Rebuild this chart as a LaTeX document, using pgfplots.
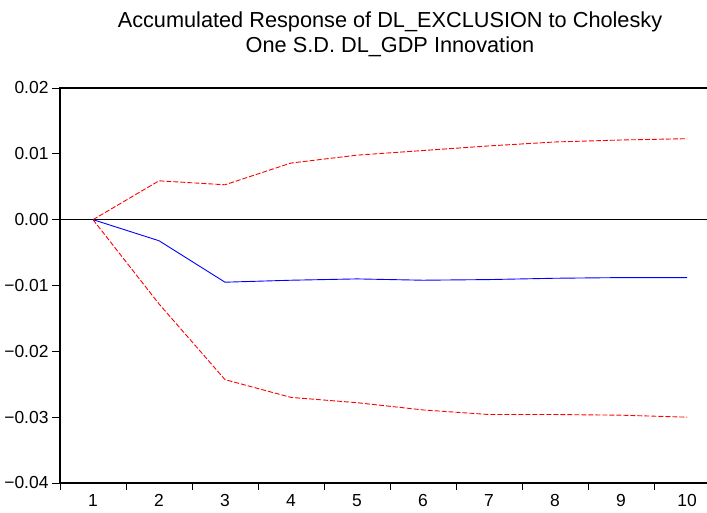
\documentclass[border=0pt]{standalone}
\usepackage{pgfplots}
\pgfplotsset{compat=1.18}
\usepackage{fontspec}
\setmainfont{Liberation Sans}
\begin{document}
\begin{tikzpicture}[x=1bp,y=1bp]
\path[use as bounding box] (0,0) rectangle (707,513);
\begin{axis}[
  at={(60bp,30bp)}, anchor=south west,
  scale only axis, width=660bp, height=395bp,
  xmin=0.5, xmax=10.5, ymin=-0.04, ymax=0.02,
  scaled y ticks=false,
  axis line style={black, line width=1.2bp},
  xtick={1,2,3,4,5,6,7,8,9,10},
  minor xtick={0.5,1.5,2.5,3.5,4.5,5.5,6.5,7.5,8.5,9.5,10.5},
  major x tick style={draw=none},
  minor x tick style={black, line width=0.8bp},
  y tick style={black, line width=0.8bp},
  tick align=outside, xtick pos=bottom, ytick pos=left,
  major tick length=8bp, minor tick length=7bp,
  ytick={-0.04,-0.03,-0.02,-0.01,0,0.01,0.02},
  yticklabels={−0.04,−0.03,−0.02,−0.01,0.00,0.01,0.02},
  tick label style={font=\fontsize{17.5}{20}\selectfont},
  /pgf/number format/assume math mode=true,
  clip=false,
]
\addplot[black, line width=0.9bp, forget plot] coordinates {(0.5,0) (10.5,0)};
\addplot[red, line width=0.9bp, dash pattern=on 5bp off 2bp] coordinates {
(1,0) (2,0.0059) (3,0.0053) (4,0.0086) (5,0.0098) (6,0.0105) (7,0.0112) (8,0.0118) (9,0.0121) (10,0.0123)};
\addplot[red, line width=0.9bp, dash pattern=on 5bp off 2bp] coordinates {
(1,0) (2,-0.0128) (3,-0.0243) (4,-0.0270) (5,-0.0278) (6,-0.0289) (7,-0.0296) (8,-0.0296) (9,-0.0297) (10,-0.0300)};
\addplot[blue, line width=0.9bp] coordinates {
(1,0) (2,-0.0032) (3,-0.0095) (4,-0.0092) (5,-0.0090) (6,-0.0092) (7,-0.0091) (8,-0.0089) (9,-0.0088) (10,-0.0088)};
\end{axis}
\node[anchor=base, font=\fontsize{21.8}{26}\selectfont] at (390,485.3) {Accumulated Response of DL\_EXCLUSION to Cholesky};
\node[anchor=base, font=\fontsize{21.8}{26}\selectfont] at (390,460) {One S.D. DL\_GDP Innovation};
\end{tikzpicture}
\end{document}
